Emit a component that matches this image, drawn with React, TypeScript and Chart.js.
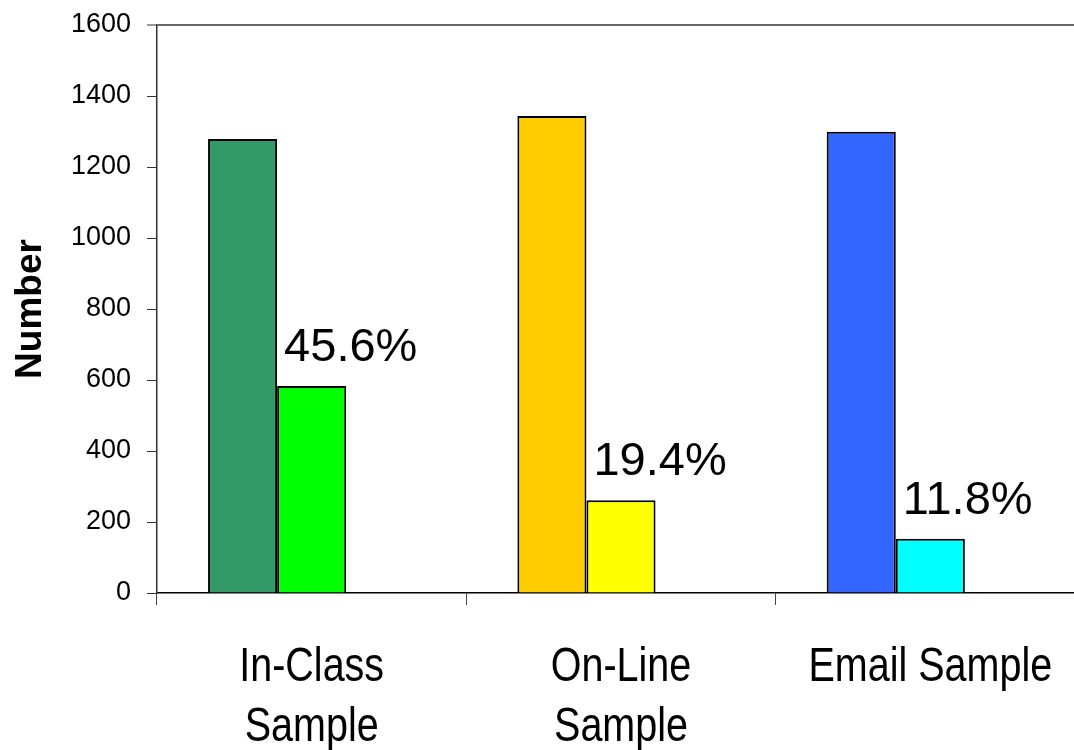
import React, { useEffect, useRef } from "react";
import { Chart, registerables } from "chart.js";

Chart.register(...registerables);

// Survey groups and counts
const categories: string[][] = [["In-Class", "Sample"], ["On-Line", "Sample"], ["Email Sample"]];
const sampleSize: number[] = [1279, 1344, 1299];
const respondents: number[] = [583, 261, 153];
const reserved: (number | null)[] = [null, null, null];

const sampleColors = ["#339966", "#FFCC00", "#3366FF"];
const respondentColors = ["#00FF00", "#FFFF00", "#00FFFF"];

const yTicks = { min: 0, max: 1600, step: 200 };

const CANVAS_W = 1100;
const CANVAS_H = 750;
const ARIAL = '"Liberation Sans", Arial, sans-serif';
const NARROW = 1.2; // vertical stretch that gives the captions a narrow face

// Response rate printed above each respondent bar
const rateLabels = {
  id: "rateLabels",
  afterDatasetsDraw(chart: any) {
    const meta = chart.getDatasetMeta(1);
    const ctx = chart.ctx;
    ctx.save();
    ctx.fillStyle = "#000";
    ctx.font = `47px ${ARIAL}`;
    ctx.textAlign = "left";
    ctx.textBaseline = "alphabetic";
    meta.data.forEach((bar: any, i: number) => {
      const rate = ((respondents[i] / sampleSize[i]) * 100).toFixed(1) + "%";
      ctx.fillText(rate, bar.x - bar.width / 2 + 7, bar.y - 25);
    });
    ctx.restore();
  },
};

// Category captions under the x axis
const categoryCaptions = {
  id: "categoryCaptions",
  afterDraw(chart: any) {
    const xs = chart.scales.x;
    const ctx = chart.ctx;
    ctx.save();
    ctx.fillStyle = "#000";
    ctx.font = `39.5px ${ARIAL}`;
    ctx.textAlign = "center";
    ctx.textBaseline = "alphabetic";
    categories.forEach((lines, i) => {
      const x = xs.getPixelForTick(i);
      lines.forEach((line, j) => {
        ctx.save();
        ctx.translate(x, xs.bottom - 69 + j * 60);
        ctx.scale(1, NARROW);
        ctx.fillText(line, 0, 0);
        ctx.restore();
      });
    });
    ctx.restore();
  },
};

export default function App() {
  const canvasRef = useRef<HTMLCanvasElement | null>(null);

  useEffect(() => {
    if (!canvasRef.current) return;
    const chart = new Chart(canvasRef.current, {
      type: "bar",
      data: {
        labels: categories as any,
        datasets: [
          {
            label: "Sample",
            data: sampleSize,
            backgroundColor: sampleColors,
            borderColor: "#000",
            borderWidth: 2,
          },
          {
            label: "Respondents",
            data: respondents,
            backgroundColor: respondentColors,
            borderColor: "#000",
            borderWidth: 2,
          },
          {
            // empty slot so each pair sits left of the category centre
            label: "",
            data: reserved as any,
            borderWidth: 0,
          },
        ],
      },
      options: {
        responsive: false,
        animation: false,
        events: [],
        layout: { padding: { left: 0, top: 25, right: 15, bottom: 0 } },
        datasets: { bar: { categoryPercentage: 0.67, barPercentage: 1 } },
        plugins: {
          legend: { display: false },
          tooltip: { enabled: false },
        },
        scales: {
          x: {
            offset: true,
            grid: {
              offset: true,
              drawOnChartArea: false,
              drawTicks: true,
              tickLength: 12,
              tickColor: "#444",
              tickWidth: 1,
            },
            border: { display: true, color: "#000", width: 1.5 },
            ticks: { display: false },
            afterFit(scale: any) {
              scale.height = CANVAS_H - 593;
              scale.paddingLeft = 0;
              scale.paddingRight = 0;
            },
          },
          y: {
            min: yTicks.min,
            max: yTicks.max,
            ticks: {
              stepSize: yTicks.step,
              color: "#000",
              padding: 16,
              font: { family: ARIAL, size: 27 },
              callback: (v: any) => String(v),
            },
            grid: {
              drawOnChartArea: true,
              drawTicks: true,
              tickLength: 10,
              tickColor: "#333",
              tickWidth: 1,
              color: (c: any) => (c.tick && c.tick.value === yTicks.max ? "#666" : "rgba(0,0,0,0)"),
              lineWidth: (c: any) => (c.tick && c.tick.value === yTicks.max ? 2 : 1),
            },
            border: { display: true, color: "#333", width: 1.5 },
            title: {
              display: true,
              text: "Number",
              color: "#000",
              padding: { top: 9, bottom: 0 },
              font: { family: ARIAL, size: 37, weight: "bold" },
            },
            afterFit(scale: any) {
              scale.width = 157;
              scale.paddingTop = 0;
              scale.paddingBottom = 0;
            },
          },
        },
      },
      plugins: [rateLabels, categoryCaptions],
    });
    return () => chart.destroy();
  }, []);

  return (
    <div
      style={{
        position: "fixed",
        left: 0,
        top: 0,
        width: 1074,
        height: 750,
        overflow: "hidden",
        background: "#fff",
      }}
    >
      <canvas ref={canvasRef} width={CANVAS_W} height={CANVAS_H} style={{ display: "block" }} />
    </div>
  );
}
